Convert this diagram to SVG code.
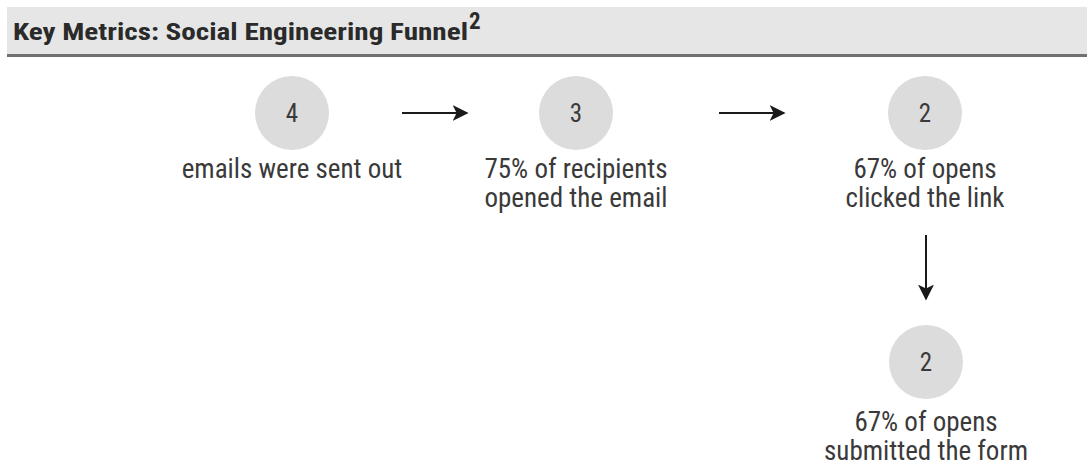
<svg xmlns="http://www.w3.org/2000/svg" width="1087" height="465" viewBox="0 0 1087 465">
<defs>
<style>
.circ{fill:#dcdcdd}
.num{font-family:"Roboto Condensed","Liberation Sans Narrow","Liberation Sans",sans-serif;font-size:25px;fill:#3a3a3a;text-anchor:middle}
.lbl{font-family:"Roboto Condensed","Liberation Sans Narrow","Liberation Sans",sans-serif;font-size:27px;fill:#3a3a3a;text-anchor:middle}
.hdr{font-family:"Roboto Condensed","Liberation Sans Narrow","Liberation Sans",sans-serif;font-size:23px;font-weight:bold;fill:#2a2a2a}
.conn{stroke:#1a1a1a;stroke-width:2;fill:none}
</style>
<marker id="ah" viewBox="0 0 10 10" refX="9" refY="5" markerWidth="8" markerHeight="8" markerUnits="strokeWidth" orient="auto">
<path d="M0,0 L10,5 L0,10 L2.5,5 Z" fill="#1a1a1a"/>
</marker>
</defs>
<rect width="1087" height="465" fill="#ffffff"/>
<g id="header">
<rect x="7" y="7" width="1080" height="48" fill="#e6e6e6"/>
<rect x="7" y="54" width="1080" height="3" fill="#707070"/>
<text class="hdr" x="13" y="40" textLength="455" lengthAdjust="spacingAndGlyphs">Key Metrics: Social Engineering Funnel</text>
<text class="hdr" x="469" y="29" font-size="13">2</text>
</g>
<g id="node1">
<circle class="circ" cx="292" cy="113" r="37"/>
<text class="num" x="292" y="122">4</text>
<text class="lbl" x="292" y="178">emails were sent out</text>
</g>
<g id="node2">
<circle class="circ" cx="576" cy="113" r="37"/>
<text class="num" x="576" y="122">3</text>
<text class="lbl" x="576" y="178">75% of recipients</text>
<text class="lbl" x="576" y="207">opened the email</text>
</g>
<g id="node3">
<circle class="circ" cx="925" cy="113" r="37"/>
<text class="num" x="925" y="122">2</text>
<text class="lbl" x="925" y="178">67% of opens</text>
<text class="lbl" x="925" y="207">clicked the link</text>
</g>
<g id="node4">
<circle class="circ" cx="926" cy="362" r="37"/>
<text class="num" x="926" y="371">2</text>
<text class="lbl" x="926" y="431">67% of opens</text>
<text class="lbl" x="926" y="460">submitted the form</text>
</g>
<g id="connectors">
<line class="conn" x1="402" y1="113" x2="467" y2="113" marker-end="url(#ah)"/>
<line class="conn" x1="719" y1="113" x2="784" y2="113" marker-end="url(#ah)"/>
<line class="conn" x1="926" y1="235" x2="926" y2="299" marker-end="url(#ah)"/>
</g>
</svg>
